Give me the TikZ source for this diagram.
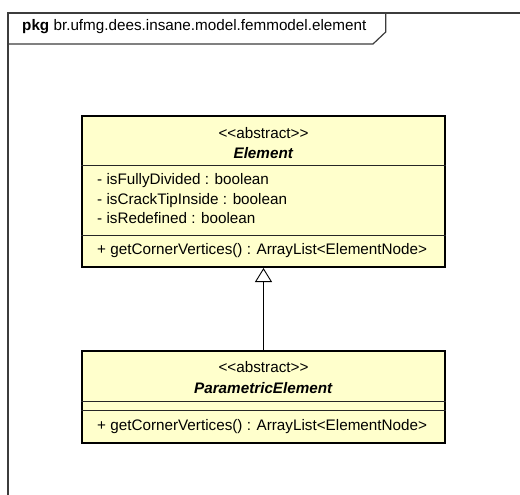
\documentclass[tikz,border=0pt]{standalone}
\usepackage{fontspec}
\setmainfont{Liberation Sans}
\usetikzlibrary{arrows.meta}
\definecolor{umlfill}{RGB}{255,255,204}
\definecolor{framegray}{RGB}{60,60,60}
\begin{document}
\begin{tikzpicture}[x=1pt,y=-1pt,
  classbox/.style={draw=black, line width=2pt, fill=umlfill, minimum width=363pt, inner sep=0pt},
  txt/.style={font=\fontsize{15.25}{17}\selectfont, inner sep=0pt},
  sepline/.style={line width=0.9pt, draw=black!85},
  framestyle/.style={line width=1.2pt, draw=framegray},
  inherit/.style={line width=0.9pt, -{Triangle[open, length=14pt, width=17pt, line width=0.9pt]}}]
\useasboundingbox (0,0) rectangle (520,495);
% package frame
\coordinate (ftl) at (8,13);
\coordinate (ftr) at (520,13);
\coordinate (fbl) at (8,495);
\coordinate (tabtop) at (385.7,13);
\coordinate (tabmid) at (385.7,32);
\coordinate (tabcut) at (373,44);
\coordinate (tabbl) at (8,44);
\draw[framestyle] (fbl) -- (ftl) -- (ftr);
\draw[framestyle] (tabtop) -- (tabmid) -- (tabcut) -- (tabbl);
\node[txt, anchor=mid west] (pkg) at (22,28) {\textbf{pkg} br.ufmg.dees.insane.model.femmodel.element};
% Element class
\node[classbox, minimum height=151pt] (elem) at (263.5,191.5) {};
\draw[sepline] (elem.west |- 0,165) -- (elem.east |- 0,165);
\draw[sepline] (elem.west |- 0,235) -- (elem.east |- 0,235);
\node[txt] (elemst) at (263.5,133) {<{}<abstract>{}>};
\node[txt] (elemname) at (263.5,153) {\textbf{\textit{Element}}};
\node[txt, anchor=mid west] (a1) at (97,182) {- isFullyDivided : boolean};
\node[txt, anchor=mid west] (a2) at (97,202) {- isCrackTipInside : boolean};
\node[txt, anchor=mid west] (a3) at (97,221) {- isRedefined : boolean};
\node[txt, anchor=mid west] (m1) at (97,252) {+ getCornerVertices() : ArrayList<ElementNode>};
% ParametricElement class
\node[classbox, minimum height=92pt] (param) at (263.5,397) {};
\draw[sepline] (param.west |- 0,401) -- (param.east |- 0,401);
\draw[sepline] (param.west |- 0,410) -- (param.east |- 0,410);
\node[txt] (paramst) at (263.5,367) {<{}<abstract>{}>};
\node[txt] (paramname) at (263.5,388) {\textbf{\textit{ParametricElement}}};
\node[txt, anchor=mid west] (m2) at (97,428) {+ getCornerVertices() : ArrayList<ElementNode>};
% generalization
\draw[inherit] (param.north) -- (elem.south);
\end{tikzpicture}
\end{document}
